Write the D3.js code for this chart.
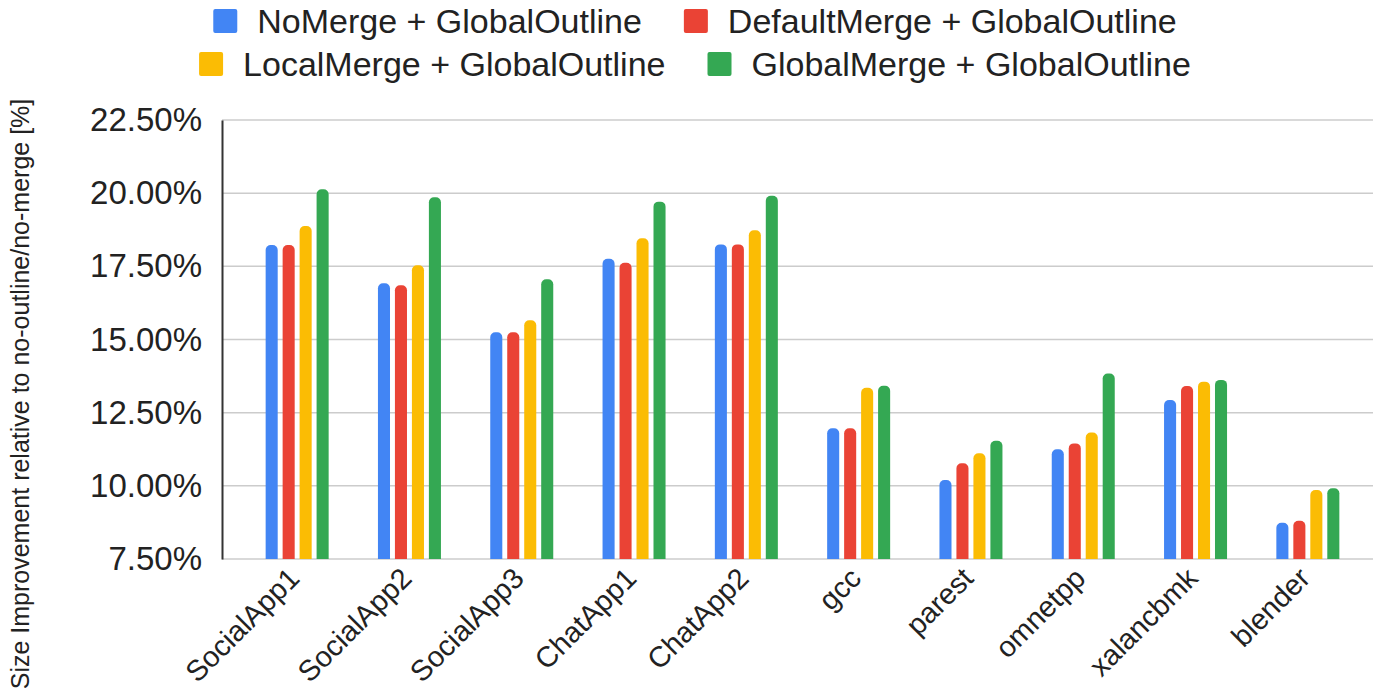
<!DOCTYPE html>
<html>
<head>
<meta charset="utf-8">
<script src="https://cdn.jsdelivr.net/npm/d3@7"></script>
<style>
  body { margin: 0; background: #fff; }
  svg { display: block; font-family: "Liberation Sans", Arial, sans-serif; }
</style>
</head>
<body>
<div id="chart"></div>
<script>
// Datos
const benchmarks = ['SocialApp1', 'SocialApp2', 'SocialApp3', 'ChatApp1', 'ChatApp2',
    'gcc', 'parest', 'omnetpp', 'xalancbmk', 'blender'];
const seriesNames = ['NoMerge + GlobalOutline', 'DefaultMerge + GlobalOutline',
    'LocalMerge + GlobalOutline', 'GlobalMerge + GlobalOutline'];
const noMerge      = [18.23, 16.92, 15.25, 17.76, 18.25, 11.97, 10.20, 11.25, 12.93, 8.74];
const defaultMerge = [18.23, 16.85, 15.25, 17.62, 18.25, 11.97, 10.77, 11.45, 13.41, 8.81];
const localMerge   = [18.88, 17.54, 15.66, 18.46, 18.73, 13.35, 11.11, 11.82, 13.56, 9.86];
const globalMerge  = [20.13, 19.86, 17.06, 19.71, 19.91, 13.42, 11.54, 13.84, 13.62, 9.92];
const yTicks = [7.5, 10, 12.5, 15, 17.5, 20, 22.5];
const yTitle = 'Size Improvement relative to no-outline/no-merge [%]';

const seriesValues = [noMerge, defaultMerge, localMerge, globalMerge];
const colors = ['#4285F4', '#EA4335', '#FBBC04', '#34A853'];

const W = 1373, H = 693;
const svg = d3.select('#chart').append('svg')
    .attr('width', W).attr('height', H);

// Escalas
const y = d3.scaleLinear().domain([7.5, 22.5]).range([559, 120]);
const x = d3.scaleBand().domain(benchmarks).range([241, 1364]).padding(0);
const xSub = d3.scaleBand().domain(seriesNames).range([-31.5, 31.5]).paddingInner(0.29);

// Rejilla
svg.append('g')
    .selectAll('line')
    .data(yTicks)
    .join('line')
    .attr('x1', 222).attr('x2', W)
    .attr('y1', d => y(d)).attr('y2', d => y(d))
    .attr('stroke', '#cccccc')
    .attr('stroke-width', 1.5);

// Eje Y
const yAxis = svg.append('g')
    .attr('transform', 'translate(222,0)')
    .call(d3.axisLeft(y).tickValues(yTicks).tickSize(0).tickPadding(20)
        .tickFormat(d => d3.format('.2f')(d) + '%'));
yAxis.select('.domain').attr('stroke', '#333').attr('stroke-width', 2);
yAxis.selectAll('text')
    .attr('font-size', '33px')
    .attr('fill', '#222')
    .attr('font-family', '"Liberation Sans", Arial, sans-serif');

// Barras con esquinas superiores redondeadas
function barPath(x0, y0, w, h, r) {
    r = Math.min(r, w / 2, h);
    return `M${x0},${y0 + h}V${y0 + r}A${r},${r} 0 0 1 ${x0 + r},${y0}` +
        `H${x0 + w - r}A${r},${r} 0 0 1 ${x0 + w},${y0 + r}V${y0 + h}Z`;
}

seriesNames.forEach((name, s) => {
    svg.append('g')
        .selectAll('path')
        .data(benchmarks.map((b, i) => ({ b, v: seriesValues[s][i] })))
        .join('path')
        .attr('fill', colors[s])
        .attr('d', d => {
            const x0 = x(d.b) + x.bandwidth() / 2 + xSub(name);
            return barPath(x0, y(d.v), xSub.bandwidth(), y(7.5) - y(d.v), 5);
        });
});

// Etiquetas del eje X
svg.append('g')
    .selectAll('text')
    .data(benchmarks)
    .join('text')
    .attr('transform', d => `translate(${x(d) + x.bandwidth() / 2 + 4},580) rotate(-45)`)
    .attr('text-anchor', 'end')
    .attr('font-size', '29px')
    .attr('fill', '#222')
    .text(d => d);

// Título eje Y
svg.append('text')
    .attr('transform', 'translate(29,394) rotate(-90)')
    .attr('text-anchor', 'middle')
    .attr('font-size', '25px')
    .attr('fill', '#222')
    .text(yTitle);

// Leyenda: dos filas centradas
const legendRows = [[0, 1], [2, 3]];
const rowY = [21, 64];
legendRows.forEach((row, r) => {
    const g = svg.append('g');
    let cursor = 0;
    row.forEach(s => {
        const item = g.append('g').attr('transform', `translate(${cursor},${rowY[r]})`);
        item.append('rect')
            .attr('x', 0).attr('y', -12)
            .attr('width', 24).attr('height', 24)
            .attr('rx', 2)
            .attr('fill', colors[s]);
        const t = item.append('text')
            .attr('x', 44).attr('dy', '0.35em')
            .attr('font-size', '34px')
            .attr('fill', '#222')
            .text(seriesNames[s]);
        cursor += 44 + t.node().getComputedTextLength() + 42;
    });
    const total = cursor - 42;
    g.attr('transform', `translate(${695 - total / 2},0)`);
});
</script>
</body>
</html>
